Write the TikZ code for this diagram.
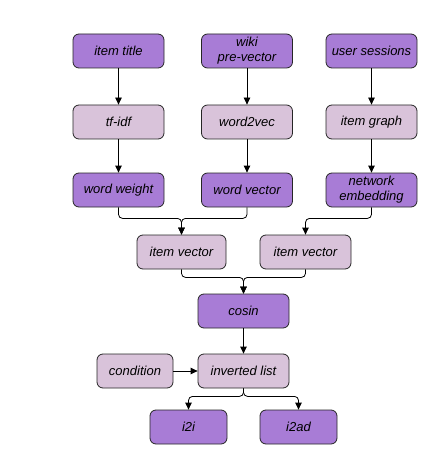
\documentclass[tikz,border=0pt]{standalone}
\usepackage{fontspec}
\setmainfont{Liberation Sans}
\usetikzlibrary{arrows.meta}
\definecolor{dark}{HTML}{A87CD6}
\definecolor{light}{HTML}{D9C3DA}
\tikzset{
  box/.style={draw=black!85, line width=0.8pt, rounded corners=6pt, minimum height=34pt,
    minimum width=91pt, align=center, inner sep=1pt,
    font=\fontsize{13}{15}\selectfont\itshape},
  darkbox/.style={box, fill=dark},
  lightbox/.style={box, fill=light},
  conn/.style={line width=0.8pt, draw=black, rounded corners=4pt,
    -{Triangle[length=7pt,width=6.5pt]}}
}
\begin{document}
\begin{tikzpicture}[x=1pt,y=-1pt]
\useasboundingbox (0,0) rectangle (445,473);
\node[darkbox] (title) at (118.5,51) {item title};
\node[darkbox] (wiki) at (247,51) {wiki\\pre-vector};
\node[darkbox] (sess) at (371.5,51) {user sessions};
\node[lightbox] (tfidf) at (118.5,122) {tf-idf};
\node[lightbox] (w2v) at (247,122) {word2vec};
\node[lightbox] (graph) at (371.5,122) {item graph};
\node[darkbox] (ww) at (118.5,190) {word weight};
\node[darkbox] (wv) at (247,190) {word vector};
\node[darkbox] (ne) at (371.5,190) {network\\embedding};
\node[lightbox, minimum width=89pt] (iv1) at (181.5,252) {item vector};
\node[lightbox, minimum width=91pt] (iv2) at (305.5,252) {item vector};
\node[darkbox] (cosin) at (243.5,311) {cosin};
\node[lightbox] (inv) at (243.5,371) {inverted list};
\node[lightbox, minimum width=76pt] (cond) at (135,371) {condition};
\node[darkbox, minimum width=77pt] (i2i) at (188.5,427) {i2i};
\node[darkbox, minimum width=77pt] (i2ad) at (298.5,427) {i2ad};

\draw[conn] (title) -- (tfidf);
\draw[conn] (wiki) -- (w2v);
\draw[conn] (sess) -- (graph);
\draw[conn] (tfidf) -- (ww);
\draw[conn] (w2v) -- (wv);
\draw[conn] (graph) -- (ne);
\draw[conn] (ww.south) -- ++(0,11) -| (iv1.north);
\draw[conn] (wv.south) -- ++(0,11) -| (iv1.north);
\draw[conn] (ne.south) -- ++(0,11) -| (iv2.north);
\draw[conn] (iv1.south) -- ++(0,8) -| (cosin.north);
\draw[conn] (iv2.south) -- ++(0,8) -| (cosin.north);
\draw[conn] (cosin) -- (inv);
\draw[conn] (cond) -- (inv);
\draw[conn] (inv.south) -- ++(0,8) -| (i2i.north);
\draw[conn] (inv.south) -- ++(0,8) -| (i2ad.north);
\end{tikzpicture}
\end{document}
